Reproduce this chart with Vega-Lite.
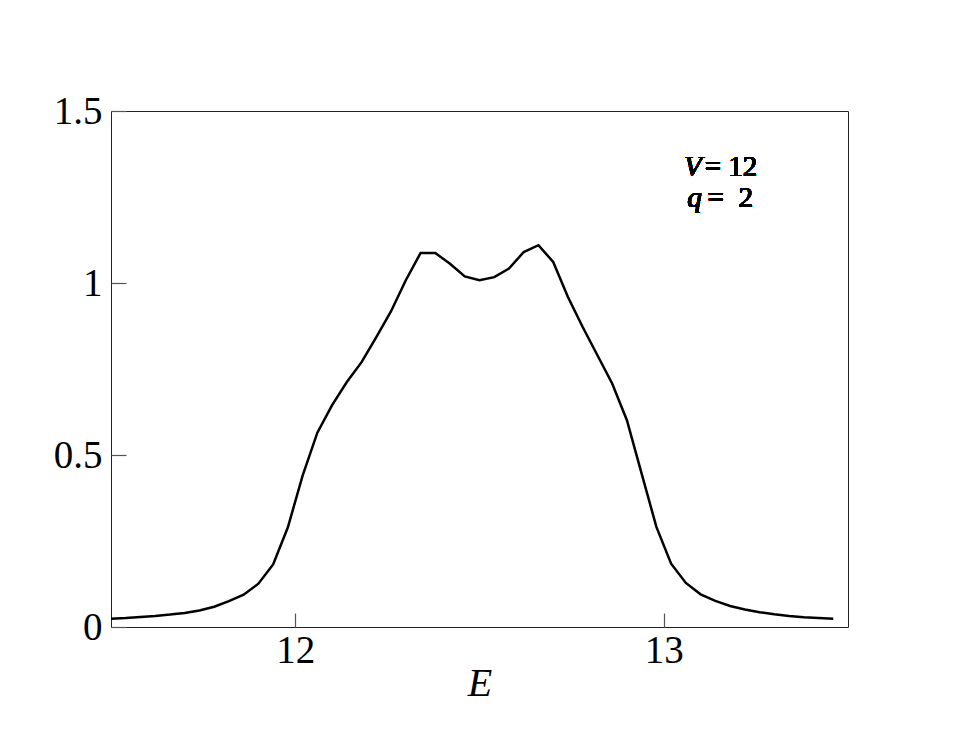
{
  "$schema": "https://vega.github.io/schema/vega-lite/v6.json",
  "autosize": "none",
  "width": 737,
  "height": 516,
  "padding": {"left": 111, "top": 111, "right": 107, "bottom": 111},
  "background": "white",
  "config": {
    "view": {"stroke": "#222", "strokeWidth": 1},
    "font": "Liberation Serif"
  },
  "data": {"values": [
    {"E": 11.50, "v": 0.024}, {"E": 11.54, "v": 0.026}, {"E": 11.58, "v": 0.029},
    {"E": 11.62, "v": 0.032}, {"E": 11.66, "v": 0.036}, {"E": 11.70, "v": 0.041},
    {"E": 11.74, "v": 0.048}, {"E": 11.78, "v": 0.059}, {"E": 11.82, "v": 0.075},
    {"E": 11.86, "v": 0.094}, {"E": 11.90, "v": 0.126}, {"E": 11.94, "v": 0.182},
    {"E": 11.98, "v": 0.290}, {"E": 12.02, "v": 0.440}, {"E": 12.06, "v": 0.565},
    {"E": 12.10, "v": 0.645}, {"E": 12.14, "v": 0.712}, {"E": 12.18, "v": 0.770},
    {"E": 12.22, "v": 0.843}, {"E": 12.26, "v": 0.918}, {"E": 12.30, "v": 1.008},
    {"E": 12.34, "v": 1.087}, {"E": 12.38, "v": 1.087}, {"E": 12.42, "v": 1.056},
    {"E": 12.46, "v": 1.019}, {"E": 12.50, "v": 1.008}, {"E": 12.54, "v": 1.017},
    {"E": 12.58, "v": 1.042}, {"E": 12.62, "v": 1.090}, {"E": 12.66, "v": 1.110},
    {"E": 12.70, "v": 1.061}, {"E": 12.74, "v": 0.959}, {"E": 12.78, "v": 0.872},
    {"E": 12.82, "v": 0.790}, {"E": 12.86, "v": 0.708}, {"E": 12.90, "v": 0.601},
    {"E": 12.94, "v": 0.446}, {"E": 12.98, "v": 0.291}, {"E": 13.02, "v": 0.184},
    {"E": 13.06, "v": 0.128}, {"E": 13.10, "v": 0.095}, {"E": 13.14, "v": 0.076},
    {"E": 13.18, "v": 0.061}, {"E": 13.22, "v": 0.051}, {"E": 13.26, "v": 0.043},
    {"E": 13.30, "v": 0.037}, {"E": 13.34, "v": 0.032}, {"E": 13.38, "v": 0.028},
    {"E": 13.42, "v": 0.026}, {"E": 13.46, "v": 0.024}
  ]},
  "layer": [
    {
      "mark": {"type": "line", "stroke": "black", "strokeWidth": 2.5},
      "encoding": {
        "x": {
          "field": "E", "type": "quantitative",
          "scale": {"domain": [11.5, 13.5], "nice": false, "zero": false},
          "axis": {
            "values": [12, 13], "labelExpr": "'' + datum.value", "title": "E", "grid": false, "domain": false,
            "zindex": 1,
            "tickSize": -14, "tickColor": "#555", "tickWidth": 1.2,
            "labelFont": "Liberation Serif", "labelFontSize": 39, "labelColor": "black",
            "labelPadding": 18,
            "titleFont": "Liberation Serif", "titleFontSize": 40, "titleFontStyle": "italic",
            "titleFontWeight": "normal", "titleColor": "black", "titlePadding": -7
          }
        },
        "y": {
          "field": "v", "type": "quantitative",
          "scale": {"domain": [0, 1.5], "nice": false},
          "axis": {
            "values": [0, 0.5, 1, 1.5], "labelExpr": "'' + datum.value", "title": null, "grid": false, "domain": false,
            "zindex": 1,
            "tickSize": -15, "tickColor": "#555", "tickWidth": 1.2,
            "labelFont": "Liberation Serif", "labelFontSize": 39, "labelColor": "black",
            "labelPadding": 24
          }
        }
      }
    },
    {
      "mark": {"type": "text", "font": "Liberation Serif", "fontStyle": "italic", "fontWeight": 400, "fontSize": 29, "align": "right", "baseline": "alphabetic", "fill": "black"},
      "encoding": {"x": {"datum": 13.103}, "y": {"datum": 1.31}, "text": {"value": "V"}}
    },
    {
      "mark": {"type": "text", "font": "Liberation Serif", "fontWeight": 400, "fontSize": 29, "align": "left", "baseline": "alphabetic", "fill": "black"},
      "encoding": {"x": {"datum": 13.111}, "y": {"datum": 1.31}, "text": {"value": "= 12"}}
    },
    {
      "mark": {"type": "text", "font": "Liberation Serif", "fontStyle": "italic", "fontWeight": 400, "fontSize": 29, "align": "right", "baseline": "alphabetic", "fill": "black"},
      "encoding": {"x": {"datum": 13.103}, "y": {"datum": 1.22}, "text": {"value": "q"}}
    },
    {
      "mark": {"type": "text", "font": "Liberation Serif", "fontWeight": 400, "fontSize": 29, "align": "left", "baseline": "alphabetic", "fill": "black"},
      "encoding": {"x": {"datum": 13.119}, "y": {"datum": 1.22}, "text": {"value": "= \u00a02"}}
    }
  ]
}
